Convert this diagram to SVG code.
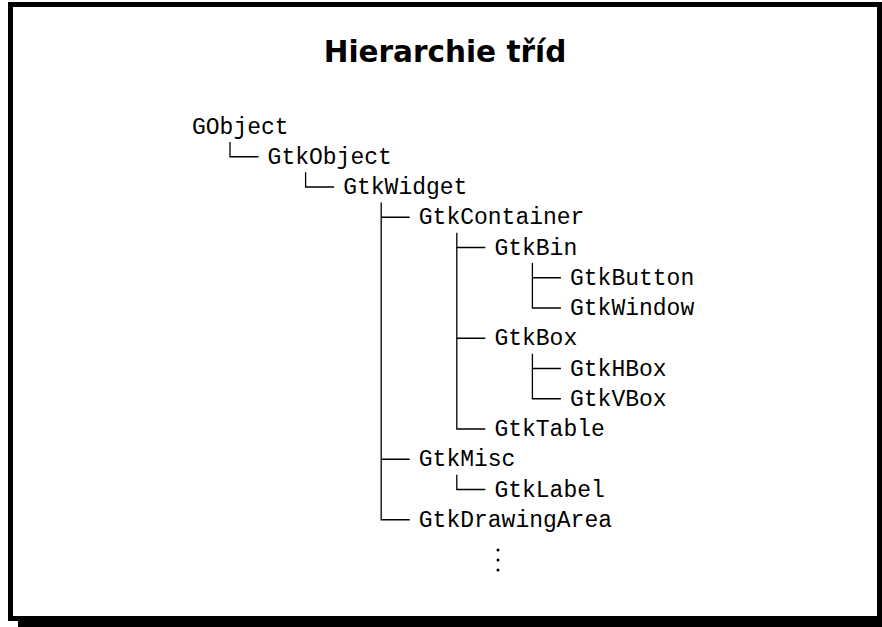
<svg xmlns="http://www.w3.org/2000/svg" width="882" height="627" viewBox="0 0 882 627">
  <style>
    .title { font-family: "DejaVu Sans", "Liberation Sans", sans-serif; font-weight: bold; font-size: 29.5px; fill: #000; }
    .cls { font-family: "Liberation Mono", "DejaVu Sans Mono", monospace; font-size: 23px; fill: #000; }
    .tree { fill: none; stroke: #000; stroke-width: 1.3; }
  </style>
  <rect x="0" y="0" width="882" height="627" fill="#fff"/>
  <!-- frame with drop shadow -->
  <rect x="18" y="620" width="870" height="10" fill="#000"/>
  <rect x="10.5" y="4.5" width="869" height="614" fill="#fff" stroke="#000" stroke-width="5"/>

  <text class="title" x="445" y="62" text-anchor="middle">Hierarchie tříd</text>

  <g id="connectors" class="tree">
    <!-- GObject -> GtkObject -->
    <path d="M230 142 V156.75 H258.5"/>
    <!-- GtkObject -> GtkWidget -->
    <path d="M305.6 172.25 V187 H334.1"/>
    <!-- GtkWidget -> GtkContainer, GtkMisc, GtkDrawingArea -->
    <path d="M381.2 202.5 V519.75 H409.7 M381.2 217.25 H409.7 M381.2 459.25 H409.7"/>
    <!-- GtkContainer -> GtkBin, GtkBox, GtkTable -->
    <path d="M456.8 232.75 V429 H485.3 M456.8 247.5 H485.3 M456.8 338.25 H485.3"/>
    <!-- GtkBin -> GtkButton, GtkWindow -->
    <path d="M532.4 263 V308 H560.9 M532.4 277.75 H560.9"/>
    <!-- GtkBox -> GtkHBox, GtkVBox -->
    <path d="M532.4 353.75 V398.75 H560.9 M532.4 368.5 H560.9"/>
    <!-- GtkMisc -> GtkLabel -->
    <path d="M456.8 474.75 V489.5 H485.3"/>
  </g>

  <g id="GObject"><text class="cls" x="192" y="133.5">GObject</text></g>
  <g id="GtkObject"><text class="cls" x="267.6" y="163.75">GtkObject</text></g>
  <g id="GtkWidget"><text class="cls" x="343.2" y="194">GtkWidget</text></g>
  <g id="GtkContainer"><text class="cls" x="418.8" y="224.25">GtkContainer</text></g>
  <g id="GtkBin"><text class="cls" x="494.4" y="254.5">GtkBin</text></g>
  <g id="GtkButton"><text class="cls" x="570" y="284.75">GtkButton</text></g>
  <g id="GtkWindow"><text class="cls" x="570" y="315">GtkWindow</text></g>
  <g id="GtkBox"><text class="cls" x="494.4" y="345.25">GtkBox</text></g>
  <g id="GtkHBox"><text class="cls" x="570" y="375.5">GtkHBox</text></g>
  <g id="GtkVBox"><text class="cls" x="570" y="405.75">GtkVBox</text></g>
  <g id="GtkTable"><text class="cls" x="494.4" y="436">GtkTable</text></g>
  <g id="GtkMisc"><text class="cls" x="418.8" y="466.25">GtkMisc</text></g>
  <g id="GtkLabel"><text class="cls" x="494.4" y="496.5">GtkLabel</text></g>
  <g id="GtkDrawingArea"><text class="cls" x="418.8" y="526.75">GtkDrawingArea</text></g>

  <!-- vertical ellipsis -->
  <g id="more" fill="#000">
    <circle cx="498" cy="550" r="1.5"/>
    <circle cx="498" cy="560" r="1.5"/>
    <circle cx="498" cy="570" r="1.5"/>
  </g>
</svg>
